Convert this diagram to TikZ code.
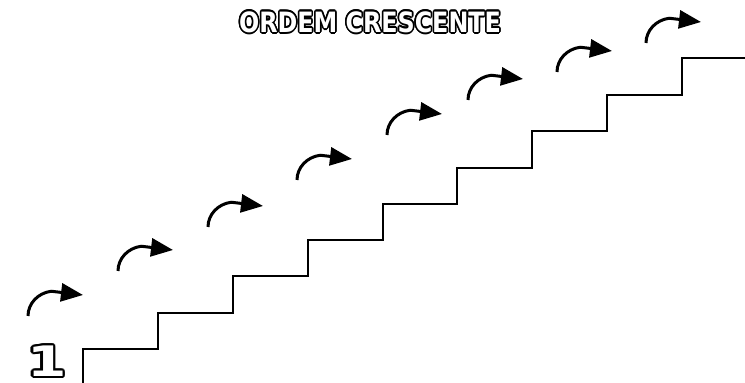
\documentclass[tikz,border=0pt]{standalone}
\usepackage{fontspec}
\setmainfont{DejaVu Sans}
\usepackage{graphicx}
\usepackage{contour}
\contourlength{0.9pt}
\usetikzlibrary{arrows.meta}
\tikzset{
  degrau/.style={line width=1pt, line join=miter},
  seta/.style={line width=1.5pt, line join=round, -{Triangle[length=11pt,width=9pt]}},
  contorno/.style={inner sep=0pt, text=white}
}
\begin{document}
\begin{tikzpicture}[x=0.5pt,y=-0.5pt]
    \useasboundingbox (0,0) rectangle (745,383);
    % titulo e numero
    \node[contorno] (titulo) at (370,23) {\fontsize{14}{14}\selectfont\bfseries\scalebox{0.85}[1]{\contour{black}{ORDEM CRESCENTE}}};
    \node[contorno] (um) at (47,362) {\fontsize{21}{21}\selectfont\bfseries\scalebox{1.35}[1]{\contour{black}{1}}};
    % escada
    \draw[degrau] (83,383) -- (83,349) -- (158,349) -- (158,313) -- (233,313) -- (233,276)
        -- (308,276) -- (308,240) -- (383,240) -- (383,204) -- (457,204) -- (457,168)
        -- (532,168) -- (532,131) -- (607,131) -- (607,95) -- (682,95) -- (682,58) -- (745,58);
    % setas
    \foreach \x/\y in {28/316, 118/271, 208/227, 297/180, 387/135, 468/100, 557/72, 646/43}
        \draw[seta] (\x,\y) arc[start angle=180, end angle=262, x radius=27, y radius=25] -- (\x+55,\y-21);
\end{tikzpicture}
\end{document}
